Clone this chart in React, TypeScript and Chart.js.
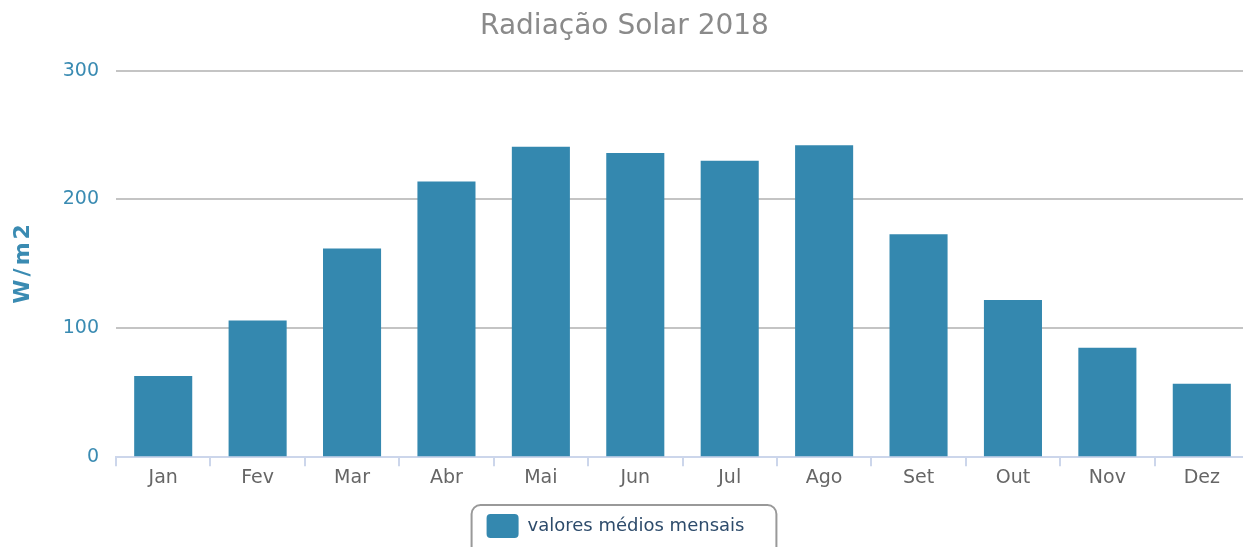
import React, { useEffect, useRef } from "react";
import { Chart, registerables } from "chart.js";

Chart.register(...registerables);

const months = ["Jan", "Fev", "Mar", "Abr", "Mai", "Jun", "Jul", "Ago", "Set", "Out", "Nov", "Dez"];
const monthlyValues = [63, 106, 162, 214, 241, 236, 230, 242, 173, 122, 85, 57];
const yTickValues = [0, 100, 200, 300];
const seriesName = "valores médios mensais";
const chartTitle = "Radiação Solar 2018";
const yAxisTitle = "W/m2";

const FONT = "'DejaVu Sans', sans-serif";
const BAR = "#3488AF";
const AXIS_BLUE = "#3a8bb2";

const legendShift = {
  id: "legendShift",
  afterLayout(chart: any) {
    const lg = chart.legend;
    if (!lg) return;
    lg.left -= 9;
    lg.right -= 9;
  },
};

const legendBorder = {
  id: "legendBorder",
  afterDraw(chart: any) {
    const lg = chart.legend;
    if (!lg || !lg.legendHitBoxes || !lg.legendHitBoxes.length) return;
    const hb = lg.legendHitBoxes[0];
    const ctx = chart.ctx;
    ctx.save();
    ctx.strokeStyle = "#999999";
    ctx.lineWidth = 2;
    ctx.beginPath();
    ctx.roundRect(hb.left - 15, hb.top - 9, hb.width + 47, hb.height + 30, 9);
    ctx.stroke();
    ctx.restore();
  },
};

const yTitlePlugin = {
  id: "yTitle",
  afterDraw(chart: any) {
    const ctx = chart.ctx;
    const area = chart.chartArea;
    ctx.save();
    ctx.translate(23, (area.top + area.bottom) / 2);
    ctx.rotate(-Math.PI / 2);
    ctx.font = `bold 22px ${FONT}`;
    (ctx as any).letterSpacing = "3px";
    ctx.fillStyle = AXIS_BLUE;
    ctx.textAlign = "center";
    ctx.textBaseline = "middle";
    ctx.fillText(yAxisTitle, 1.5, 0);
    ctx.restore();
  },
};

export default function App() {
  const ref = useRef<HTMLCanvasElement | null>(null);
  useEffect(() => {
    document.body.style.margin = "0";
    document.body.style.overflow = "hidden";
    const chart = new Chart(ref.current!, {
      type: "bar",
      data: {
        labels: months,
        datasets: [
          {
            label: seriesName,
            data: monthlyValues,
            backgroundColor: BAR,
            borderWidth: 0,
            categoryPercentage: 1,
            barPercentage: 0.615,
          },
        ],
      },
      plugins: [legendShift, legendBorder, yTitlePlugin],
      options: {
        animation: false,
        responsive: true,
        maintainAspectRatio: false,
        layout: { padding: { left: 0, right: 0, top: 6, bottom: 0 } },
        plugins: {
          title: {
            display: true,
            text: chartTitle,
            color: "#8a8a8a",
            font: { family: FONT, size: 28, weight: "normal" },
            padding: { top: 4, bottom: 27 },
          },
          legend: {
            position: "bottom",
            labels: {
              color: "#2d4b6b",
              font: { family: FONT, size: 18 },
              boxWidth: 32,
              boxHeight: 24,
              useBorderRadius: true,
              borderRadius: 4,
              padding: 25,
            },
          },
          tooltip: { enabled: false },
        },
        scales: {
          x: {
            grid: {
              display: true,
              drawOnChartArea: false,
              drawTicks: true,
              tickLength: 9,
              color: "#ccd6eb",
              lineWidth: 2,
            },
            border: { display: true, color: "#ccd6eb", width: 2 },
            ticks: {
              color: "#666666",
              font: { family: FONT, size: 19 },
              padding: 0,
            },
          },
          y: {
            min: 0,
            max: 300,
            afterFit(scale: any) {
              scale.width = 116;
            },
            afterBuildTicks(scale: any) {
              scale.ticks = yTickValues.map((v) => ({ value: v }));
            },
            ticks: {
              color: AXIS_BLUE,
              font: { family: FONT, size: 19 },
              padding: 17,
            },
            grid: { color: "#c4c4c4", lineWidth: 2, drawTicks: false },
            border: { display: false },
          },
        },
      },
    });
    return () => chart.destroy();
  }, []);
  return (
    <div style={{ position: "absolute", left: 0, top: 0, width: 1243, height: 547, overflow: "hidden" }}>
      <div style={{ position: "relative", width: 1249, height: 548 }}>
        <canvas ref={ref} />
      </div>
    </div>
  );
}
